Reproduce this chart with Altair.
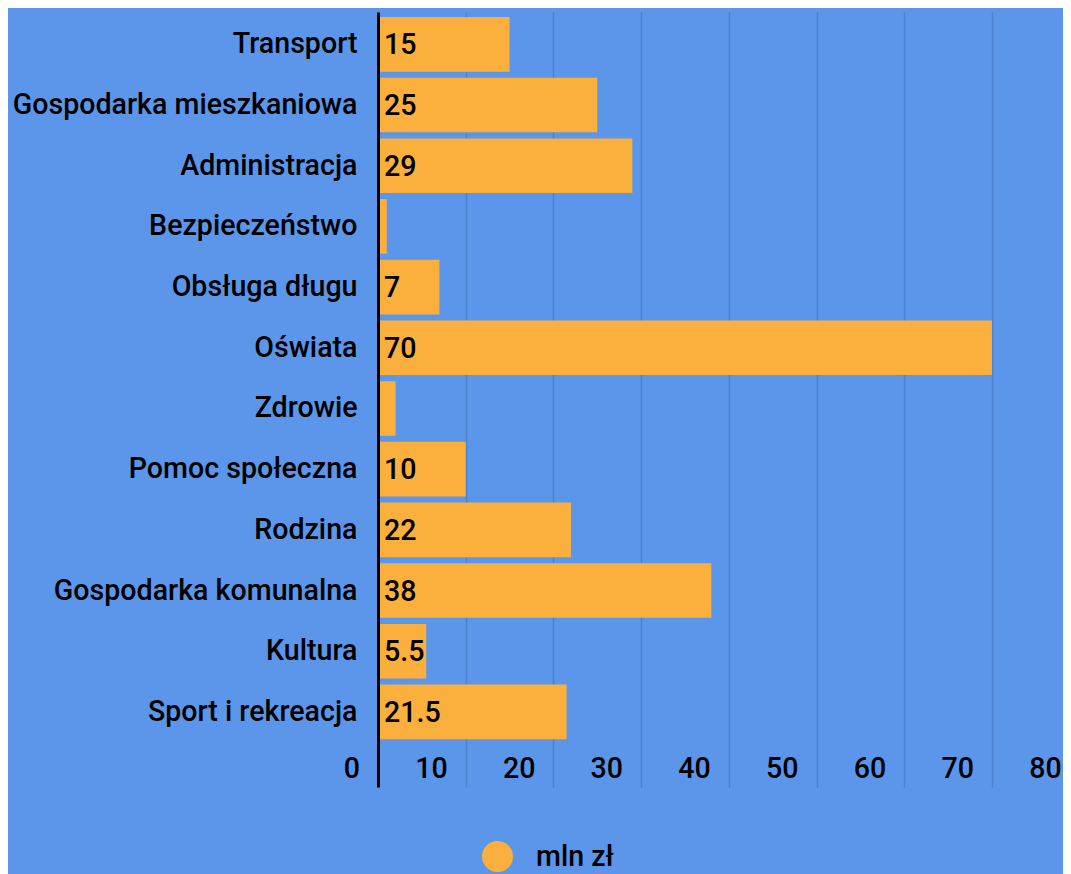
import altair as alt
import pandas as pd

categories = ["Transport", "Gospodarka mieszkaniowa", "Administracja", "Bezpieczeństwo",
              "Obsługa długu", "Oświata", "Zdrowie", "Pomoc społeczna", "Rodzina",
              "Gospodarka komunalna", "Kultura", "Sport i rekreacja"]
values = [15, 25, 29, 1, 7, 70, 2, 10, 22, 38, 5.5, 21.5]
value_labels = ["15", "25", "29", "", "7", "70", "", "10", "22", "38", "5.5", "21.5"]
x_ticks = [0, 10, 20, 30, 40, 50, 60, 70, 80]
series_name = "mln zł"

BG = "#5C96EA"
BAR = "#FBB03D"
GRID = "#4C81CF"
FONT = "Roboto"
FS = 28.6

df = pd.DataFrame({"kategoria": categories, "wartosc": values,
                   "etykieta": value_labels, "seria": series_name})
ticks_df = pd.DataFrame({"tick": x_ticks, "tick_label": [str(t) for t in x_ticks]})

x_scale = alt.Scale(domain=[0, 78.1], nice=False, zero=True)

x_enc = alt.X("wartosc:Q", scale=x_scale,
              axis=alt.Axis(values=x_ticks, title=None, grid=True, gridColor=GRID,
                            gridWidth=1.5, ticks=False, labels=False, domain=False))
y_enc = alt.Y("kategoria:N", sort=categories,
              scale=alt.Scale(paddingInner=0.1, paddingOuter=0.435, align=0.095),
              axis=alt.Axis(title=None, ticks=False, domain=True, domainColor="#000000",
                            domainWidth=3, labelPadding=21, labelFont=FONT,
                            labelFontSize=FS, labelFontWeight=500, labelColor="#000000",
                            labelLimit=400, zindex=1))

bars = alt.Chart(df).mark_bar().encode(
    x=x_enc,
    y=y_enc,
    color=alt.Color("seria:N", scale=alt.Scale(range=[BAR]),
                    legend=alt.Legend(title=None, orient="none", legendX=104, legendY=829,
                                      symbolType="circle", symbolSize=960,
                                      symbolStrokeWidth=0, symbolOpacity=1,
                                      labelFont=FONT, labelFontSize=FS,
                                      labelFontWeight=500, labelColor="#000000",
                                      labelOffset=23, padding=0)),
)

texts = alt.Chart(df).mark_text(align="left", baseline="middle", dx=6, dy=1,
                                font=FONT, fontSize=FS, fontWeight=500,
                                color="#000000").encode(
    x=alt.X("zero:Q", scale=x_scale),
    y=alt.Y("kategoria:N", sort=categories),
    text="etykieta:N",
).transform_calculate(zero="0")

tick_labels = alt.Chart(ticks_df).mark_text(align="right", baseline="alphabetic", dx=-18,
                                            font=FONT, fontSize=FS, fontWeight=500,
                                            color="#000000").encode(
    x=alt.X("tick:Q", scale=x_scale),
    y=alt.value(766),
    text="tick_label:N",
)

chart = alt.layer(bars, texts, tick_labels).properties(
    width=685, height=775,
    background=BG,
    autosize=alt.AutoSizeParams(type="none"),
    padding={"left": 370, "top": 4, "right": 0, "bottom": 100},
).configure_view(stroke=None)

chart.save("out.html", embed_options={"renderer": "svg", "actions": False})
